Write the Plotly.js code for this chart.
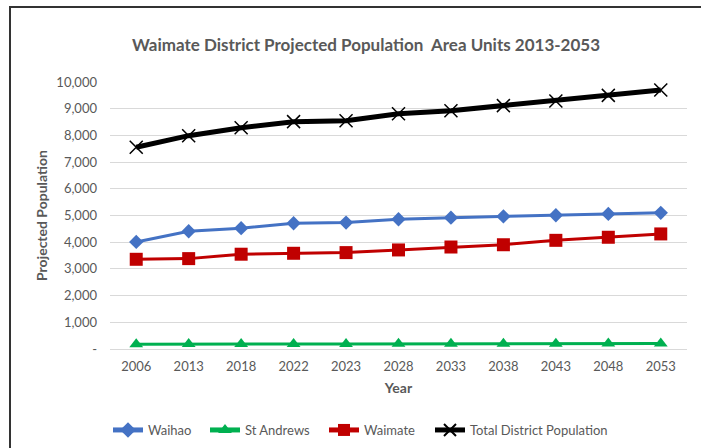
<!DOCTYPE html>
<html>
<head>
<meta charset="utf-8">
<script src="https://cdn.plot.ly/plotly-3.0.1.min.js"></script>
<style>
  html, body { margin: 0; padding: 0; background: #fff; }
  #chart { width: 701px; height: 448px; }
</style>
</head>
<body>
<div id="chart"></div>
<script>
const years = ['2006','2013','2018','2022','2023','2028','2033','2038','2043','2048','2053'];
const waihao = [4010, 4410, 4525, 4710, 4735, 4860, 4920, 4965, 5010, 5060, 5100];
const stAndrews = [180, 190, 190, 190, 190, 195, 195, 200, 200, 205, 210];
const waimate = [3360, 3385, 3550, 3585, 3610, 3710, 3820, 3905, 4070, 4185, 4310];
const total = [7555, 7990, 8290, 8515, 8550, 8810, 8925, 9115, 9290, 9500, 9700];
const yTickVals = [0, 1000, 2000, 3000, 4000, 5000, 6000, 7000, 8000, 9000, 10000];
const yTickText = ['-', '1,000', '2,000', '3,000', '4,000', '5,000', '6,000', '7,000', '8,000', '9,000', '10,000'];

const FONT = 'Lato, "Open Sans", sans-serif';
const GREY = '#595959';

const traces = [
  {name: 'Waihao', x: years, y: waihao, type: 'scatter', mode: 'lines+markers', showlegend: true,
   line: {color: '#4472C4', width: 3}, marker: {symbol: 'diamond', size: 11, color: '#4472C4'}},
  {name: 'St Andrews', x: years, y: stAndrews, type: 'scatter', mode: 'lines+markers', showlegend: true,
   line: {color: '#00B050', width: 3}, marker: {symbol: 'triangle-up', size: 12, color: '#00B050'}, legend: 'legend2'},
  {name: 'Waimate', x: years, y: waimate, type: 'scatter', mode: 'lines+markers', showlegend: true,
   line: {color: '#C00000', width: 3}, marker: {symbol: 'square', size: 13, color: '#C00000'}, legend: 'legend3'},
  {name: 'Total District Population', x: years, y: total, type: 'scatter', mode: 'lines+markers', showlegend: true,
   line: {color: '#000000', width: 5}, marker: {symbol: 'x-thin-open', size: 13, color: '#000', line: {width: 1.5, color: '#000'}}, legend: 'legend4'}
];

function leg(xpx) {
  return {orientation: 'h', x: (xpx - 110) / 577, xanchor: 'left', y: (349 - 430) / 267, yanchor: 'middle',
          font: {family: FONT, size: 13, color: GREY}, bgcolor: 'rgba(0,0,0,0)', borderwidth: 0, itemsizing: 'constant'};
}

const layout = {
  width: 701, height: 448,
  margin: {l: 110, r: 14, t: 82, b: 99, autoexpand: false},
  showlegend: true,
  paper_bgcolor: '#fff', plot_bgcolor: '#fff',
  font: {family: FONT, color: GREY},
  title: {text: 'Waimate District Projected Population  Area Units 2013-2053',
          font: {family: FONT, size: 17, color: GREY, weight: 'bold'},
          x: 366 / 701, xanchor: 'center', y: 1 - 45 / 448, yanchor: 'middle'},
  xaxis: {type: 'category', range: [-0.5, 10.5], showgrid: false, zeroline: false,
          showline: false, ticks: '', tickfont: {family: FONT, size: 13, color: GREY},
          ticklabelstandoff: 8,
          title: {text: 'Year', font: {family: FONT, size: 14, color: GREY, weight: 'bold'}, standoff: 10}},
  yaxis: {range: [0, 10000], tickvals: yTickVals, ticktext: yTickText, showgrid: true, gridcolor: '#D9D9D9', gridwidth: 1,
          zeroline: true, zerolinecolor: '#D9D9D9', zerolinewidth: 1, showline: false, ticks: '',
          tickfont: {family: FONT, size: 13, color: GREY}, ticklabelstandoff: 12,
          title: {text: 'Projected Population', font: {family: FONT, size: 14, color: GREY, weight: 'bold'}, standoff: 5}},
  legend: leg(108), legend2: leg(205), legend3: leg(324), legend4: leg(430),
  shapes: [{type: 'rect', xref: 'paper', yref: 'paper', x0: (10 - 110) / 577, x1: 1.3, y0: -0.6, y1: (349 - 7) / 267,
            line: {color: '#333', width: 2}, fillcolor: 'rgba(0,0,0,0)', layer: 'above'}]
};

Plotly.newPlot('chart', traces, layout, {displayModeBar: false, staticPlot: true});
</script>
</body>
</html>
